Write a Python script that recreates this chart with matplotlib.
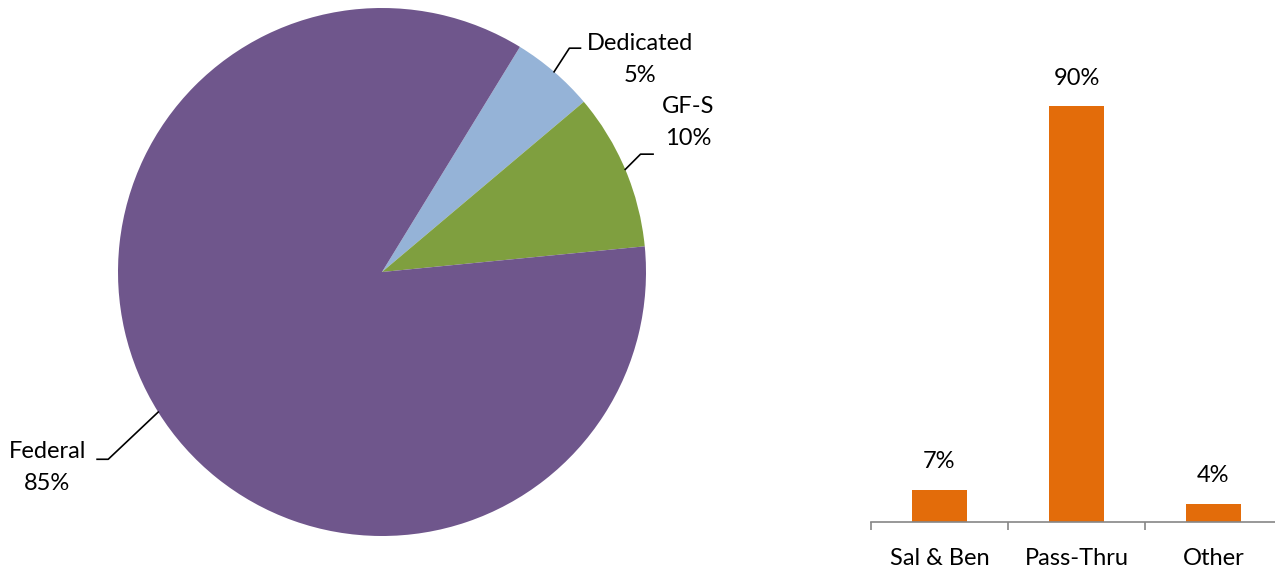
import numpy as np
from matplotlib import pyplot as plt

plt.rcParams['font.family'] = ['Lato', 'DejaVu Sans']

# pie: source of funds (clockwise from the Dedicated slice)
pie_labels = ["Dedicated", "GF-S", "Federal"]
pie_pct = ["5%", "10%", "85%"]
pie_share = [5.1, 9.6, 85.3]
pie_colors = ["#95B3D7", "#7F9F3F", "#6F568C"]

# bars: uses of funds
bar_cats = ["Sal & Ben", "Pass-Thru", "Other"]
bar_vals = [7, 90, 4]
bar_color = "#E36C0A"

W, H = 1275, 569
fig = plt.figure(figsize=(W / 100, H / 100), dpi=100)

# ---- pie ----
ax = fig.add_axes([118 / W, (H - 536) / H, 528 / W, 528 / H])
wedges, _ = ax.pie(pie_share, colors=pie_colors, startangle=58.5, counterclock=False,
                   radius=1, wedgeprops=dict(linewidth=0))
ax.set_xlim(-1, 1)
ax.set_ylim(-1, 1)
ax.set_aspect('auto')
ax.axis('off')

# label offsets (points): elbow, end of line, text centre
offsets = {
    "Dedicated": ((11, 17), (19, 17), (62, 9)),
    "GF-S": ((11, 11), (20, 11), (45, 34)),
    "Federal": ((-36, -34), (-44, -34), (-80, -40)),
}
for w, name, pct in zip(wedges, pie_labels, pie_pct):
    mid = np.deg2rad((w.theta1 + w.theta2) / 2)
    x0, y0 = np.cos(mid), np.sin(mid)
    elbow, end, txt = offsets[name]
    pts = [(0, 0), elbow, end]
    p0 = ax.transData.transform((x0, y0))
    seg = np.array([p0 + np.array(p) * fig.dpi / 72 for p in pts])
    seg = ax.transData.inverted().transform(seg)
    ax.plot(seg[:, 0], seg[:, 1], color='black', lw=1.2, clip_on=False)
    ax.annotate(name + "\n" + pct, xy=(x0, y0), xytext=txt, textcoords='offset points',
                ha='center', va='center', fontsize=17, linespacing=1.65,
                annotation_clip=False)

# ---- bars ----
bx = fig.add_axes([871 / W, (H - 522) / H, 411 / W, 462 / H])
pos = np.arange(len(bar_cats))
bx.bar(pos, bar_vals, width=0.4, color=bar_color)
bx.set_xlim(-0.5, 2.5)
bx.set_ylim(0, 100)
for p, v in zip(pos, bar_vals):
    bx.annotate(f"{v}%", xy=(p, v), xytext=(0, 20), textcoords='offset points',
                ha='center', va='center', fontsize=17)
for s in ['top', 'right', 'left']:
    bx.spines[s].set_visible(False)
bx.spines['bottom'].set_color('#868686')
bx.spines['bottom'].set_linewidth(1.2)
bx.set_yticks([])
bx.set_xticks([-0.5, 0.5, 1.5, 2.5])
bx.set_xticklabels([])
bx.tick_params(axis='x', length=6, color='#868686', width=1.2)
bx.set_xticks(pos, minor=True)
bx.set_xticklabels(bar_cats, minor=True, fontsize=17)
bx.tick_params(axis='x', which='minor', length=0, pad=19)

fig.savefig("out.png", dpi=100)
